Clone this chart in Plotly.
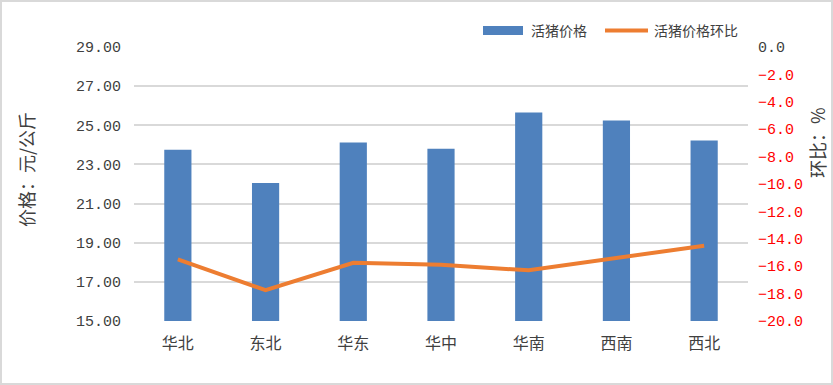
import plotly.graph_objects as go

categories = ["华北", "东北", "华东", "华中", "华南", "西南", "西北"]
price = [23.75, 22.05, 24.12, 23.80, 25.65, 25.25, 24.22]
mom = [-15.5, -17.75, -15.75, -15.9, -16.3, -15.4, -14.5]

left_tick_vals = [15, 17, 19, 21, 23, 25, 27, 29]
right_tick_vals = [0, -2, -4, -6, -8, -10, -12, -14, -16, -18, -20]
right_tick_text = ["<span style='color:#404040'>0.0</span>", "−2.0", "−4.0", "−6.0", "−8.0",
                   "−10.0", "−12.0", "−14.0", "−16.0", "−18.0", "−20.0"]

bar_name = "活猪价格"
line_name = "活猪价格环比"
left_title = "价格：元/公斤"
right_title = "环比：%"

BLUE = "#4F81BD"
ORANGE = "#ED7D31"
GRID = "#d9d9d9"
TXT = "#404040"
NUMFONT = "Liberation Mono, Noto Sans CJK SC"
CJK = "Noto Sans CJK SC"

L, R, T, B = 134, 85, 47, 64
W, H = 833, 385
PW, PH = W - L - R, H - T - B

def px(x):
    return (x - L) / PW

def py(y):
    return (H - B - y) / PH

fig = go.Figure()
fig.add_trace(go.Bar(x=categories, y=price, name=bar_name, marker=dict(color=BLUE, line=dict(width=0)),
                     yaxis="y", showlegend=False, hoverinfo="skip"))
fig.add_trace(go.Scatter(x=categories, y=mom, name=line_name, mode="lines",
                         line=dict(color=ORANGE, width=4), yaxis="y2", showlegend=False, hoverinfo="skip"))

fig.update_layout(
    width=W, height=H,
    margin=dict(l=L, r=R, t=T, b=B, autoexpand=False),
    paper_bgcolor="white", plot_bgcolor="white",
    bargap=0.69,
    xaxis=dict(showgrid=False, showline=False, ticks="", automargin=False,
               tickfont=dict(family=CJK, size=16, color=TXT), ticklabelstandoff=11),
    yaxis=dict(range=[15, 29], tickvals=left_tick_vals, tickformat=".2f", showgrid=True, gridcolor=GRID,
               gridwidth=1.6, zeroline=False, showline=False, ticks="", automargin=False,
               tickfont=dict(family=NUMFONT, size=15, color=TXT), ticklabelstandoff=12),
    yaxis2=dict(range=[-20, 0], overlaying="y", side="right", tickvals=right_tick_vals, ticktext=right_tick_text,
                showgrid=False, zeroline=False, showline=False, ticks="", automargin=False,
                tickfont=dict(family=NUMFONT, size=15, color="#ff0000"), ticklabelstandoff=9),
    showlegend=False,
)

shapes = [
    dict(type="rect", xref="paper", yref="paper", x0=px(1), x1=px(W - 1), y0=py(H - 1), y1=py(1),
         line=dict(color=GRID, width=2), fillcolor="rgba(0,0,0,0)", layer="below"),
    dict(type="rect", xref="paper", yref="paper", x0=px(483), x1=px(523), y0=py(35), y1=py(26),
         line=dict(width=0), fillcolor=BLUE),
    dict(type="line", xref="paper", yref="paper", x0=px(605), x1=px(648), y0=py(30.5), y1=py(30.5),
         line=dict(color=ORANGE, width=4)),
]
annotations = [
    dict(text=bar_name, xref="paper", yref="paper", x=px(529), y=py(30.5), xanchor="left", yanchor="middle",
         showarrow=False, font=dict(family=CJK, size=14, color=TXT)),
    dict(text=line_name, xref="paper", yref="paper", x=px(652), y=py(30.5), xanchor="left", yanchor="middle",
         showarrow=False, font=dict(family=CJK, size=14, color=TXT)),
    dict(text=left_title, xref="paper", yref="paper", x=px(26), y=py(170), xanchor="center", yanchor="middle",
         textangle=-90, showarrow=False, font=dict(family=CJK, size=18, color=TXT)),
    dict(text=right_title, xref="paper", yref="paper", x=px(817), y=py(143), xanchor="center", yanchor="middle",
         textangle=-90, showarrow=False, font=dict(family=CJK, size=18, color=TXT)),
]
fig.update_layout(shapes=shapes, annotations=annotations)

fig.write_html("out.html", config={"displayModeBar": False},
               post_script="document.body.style.margin='0';document.body.style.padding='0';"
                           "document.documentElement.style.overflow='hidden';")
